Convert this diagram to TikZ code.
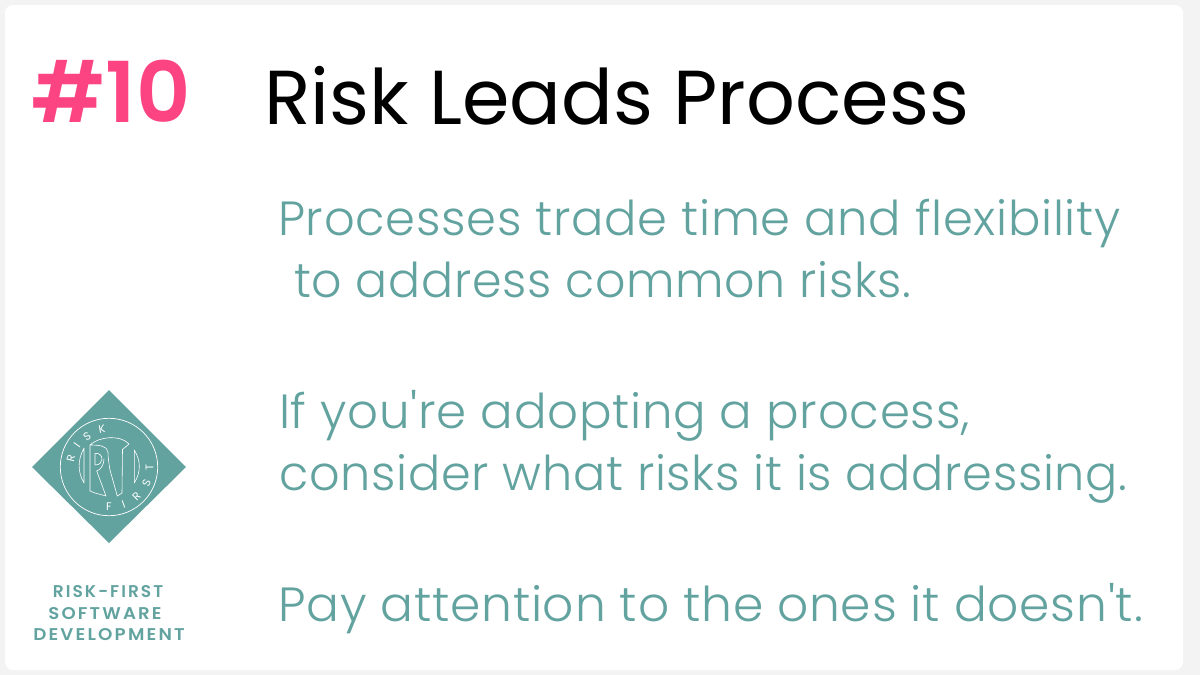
\documentclass[tikz,border=0pt]{standalone}
\usepackage{fontspec}
\newfontfamily\lightf[Ligatures=NoCommon,LetterSpace=1.5]{Poppins Light}
\newfontfamily\regf[Ligatures=NoCommon]{Poppins}
\newfontfamily\boldf[Ligatures=NoCommon]{Poppins SemiBold}
\newfontfamily\captf[Ligatures=NoCommon,LetterSpace=12]{Poppins SemiBold}
\setmainfont{Poppins}
\definecolor{tealc}{HTML}{62A3A0}
\definecolor{pinkc}{HTML}{FC4483}
\definecolor{bgc}{HTML}{F3F3F3}
\tikzset{body/.style={anchor=base west,inner sep=0pt,text=tealc,font=\lightf\fontsize{48}{48}\selectfont},
capt/.style={anchor=base,inner sep=0pt,text=tealc,font=\captf\fontsize{17}{17}\selectfont},
ring/.style={inner sep=0pt,text=white,font=\regf\fontsize{11}{11}\selectfont},
logo/.style={white,line width=0.6,line join=round}}
\begin{document}
\begin{tikzpicture}[x=1pt,y=-1pt,line cap=round]
\useasboundingbox (0,0) rectangle (1200,675);
\fill[bgc] (0,0) rectangle (1200,675);
\fill[white,rounded corners=8] (5,5) rectangle (1183,670);
\node[anchor=base west,inner sep=0pt,text=pinkc,font=\boldf\fontsize{84}{84}\selectfont] (num) at (31,122) {\#10};
\node[anchor=base west,inner sep=0pt,text=black,font=\regf\fontsize{76.5}{76.5}\selectfont] (title) at (264,124) {Risk Leads Process};
\node[body] (a) at (278,235) {Processes trade time and flexibility};
\node[body,xscale=0.989,transform shape] (b) at (294,297) {to address common risks.};
\node[body,xscale=1.006,transform shape] (c) at (279,428) {If you're adopting a process,};
\node[body,xscale=0.995,transform shape] (d) at (279,490) {consider what risks it is addressing.};
\node[body,xscale=1.015,transform shape] (e) at (278,621) {Pay attention to the ones it doesn't.};
\fill[tealc] (109,390) -- (186,467) -- (109,543) -- (32,467) -- cycle;
\draw[white,line width=0.7] (109,467) circle (48.7);
\node[ring,rotate=77] (r1) at (71,458.5) {R};
\node[ring,rotate=55] (r2) at (77,445) {I};
\node[ring,rotate=35] (r3) at (87,436) {S};
\node[ring,rotate=10] (r4) at (102,429) {K};
\node[ring,rotate=0] (f1) at (109,506.5) {F};
\node[ring,rotate=20] (f2) at (123.5,504) {I};
\node[ring,rotate=45] (f3) at (136.5,496) {R};
\node[ring,rotate=68] (f4) at (146.5,483) {S};
\node[ring,rotate=90] (f5) at (149.5,467.5) {T};
\draw[logo] (90,445) .. controls (98,437) and (120,434) .. (129,444) .. controls (127,447) and (124,447) .. (122.5,449.5) -- (122,493) -- (117.3,496) -- (110,470) .. controls (109,464) and (108,458) .. (108,452) .. controls (107,446) and (100,445) .. (90,445) -- (90,491) -- (95,493) -- (106,496) -- (96.7,471) .. controls (101,470) and (104,464) .. (104,459);
\draw[logo] (95,453.3) .. controls (100,453) and (102,456) .. (102,459) .. controls (102,462) and (100,465) .. (95,465) -- cycle;
\draw[logo] (84,448) .. controls (77.5,460) and (77.5,472) .. (84,483) -- cycle;
\draw[logo] (134.3,450) .. controls (141,461) and (141,472) .. (134.3,483) -- cycle;
\node[capt] (l1) at (108,597) {RISK-FIRST};
\node[capt,xscale=1.065,transform shape] (l2) at (105,619) {SOFTWARE};
\node[capt,xscale=1.075,transform shape] (l3) at (109,640) {DEVELOPMENT};
\end{tikzpicture}
\end{document}
